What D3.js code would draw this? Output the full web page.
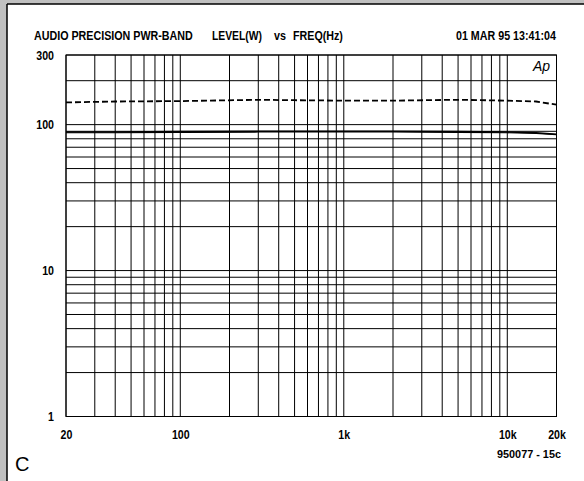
<!DOCTYPE html>
<html>
<head>
<meta charset="utf-8">
<script src="https://cdn.jsdelivr.net/npm/d3@7"></script>
<style>
  body { margin: 0; background: #fff; }
  text { font-family: "Liberation Sans", Arial, sans-serif; font-weight: bold; fill: #000; }
</style>
</head>
<body>
<script>
let freqs = [20, 40, 100, 300, 500, 1000, 2000, 5000, 10000, 15000, 20000];
let dashedLevel = [142, 144, 145, 148, 147, 146, 146, 148, 146, 144, 137];
let solidLevelA = [89, 89, 89.5, 90, 90, 90, 90, 89.5, 89, 88, 86];
let solidLevelB = [88, 88, 88.5, 89, 89, 89, 89, 88.5, 88, 87, 85.5];

let xTicks = [20, 100, 1000, 10000, 20000];
let xTickLabels = ["20", "100", "1k", "10k", "20k"];
let yTicks = [1, 10, 100, 300];
let yTickLabels = ["1", "10", "100", "300"];

let width = 584;
let height = 481;

let margin = { left: 66, right: 27.5, top: 55, bottom: 64.5 };
let innerW = width - margin.left - margin.right;
let innerH = height - margin.top - margin.bottom;

let svg = d3.select("body").append("svg").attr("width", width).attr("height", height);

// no narrow font installed, so squeeze text with a horizontal scale
let narrowText = (parent, str, px, py, targetW, size) => {
    let t = parent.append("text").style("font-size", size + "px").text(str);
    let s = targetW / t.node().getComputedTextLength();
    t.attr("transform", `translate(${px},${py}) scale(${s},1)`);
    return t;
};

// page frame: gray strip top and left, black edge
svg.append("rect").attr("width", width).attr("height", height).attr("fill", "#c0c0c0");
svg.append("rect").attr("x", 7).attr("y", 4).attr("width", width).attr("height", height).attr("fill", "#fff");
svg.append("line").attr("x1", 7).attr("x2", width).attr("y1", 4).attr("y2", 4).attr("stroke", "#000").attr("stroke-width", 1.5);
svg.append("line").attr("x1", 7).attr("x2", 7).attr("y1", 4).attr("y2", height).attr("stroke", "#000").attr("stroke-width", 1.5);

let x = d3.scaleLog().domain([20, 20000]).range([0, innerW]);
let y = d3.scaleLog().domain([1, 300]).range([innerH, 0]);

let chartGroup = svg.append("g").attr("transform", `translate(${margin.left},${margin.top})`);

// grid values
let xGrid = [];
[10, 100, 1000, 10000].forEach(d => { for (let i = 1; i < 10; i++) xGrid.push(d * i); });
xGrid = xGrid.filter(v => v >= 20 && v <= 20000);
xGrid.push(20000);
let yGrid = [];
[1, 10, 100].forEach(d => { for (let i = 1; i < 10; i++) yGrid.push(d * i); });
yGrid = yGrid.filter(v => v <= 300);

chartGroup.append("g").selectAll("line").data(xGrid).join("line")
    .attr("x1", d => x(d)).attr("x2", d => x(d))
    .attr("y1", 0).attr("y2", innerH)
    .attr("stroke", "#000").attr("stroke-width", 1);

chartGroup.append("g").selectAll("line").data(yGrid).join("line")
    .attr("x1", 0).attr("x2", innerW)
    .attr("y1", d => y(d)).attr("y2", d => y(d))
    .attr("stroke", "#000").attr("stroke-width", 1);

chartGroup.append("rect").attr("width", innerW).attr("height", innerH)
    .attr("fill", "none").attr("stroke", "#000").attr("stroke-width", 1);

// axes (labels only)
let xAxis = d3.axisBottom(x).tickValues(xTicks).tickFormat((d, i) => xTickLabels[i]).tickSize(0).tickPadding(14);
let yAxis = d3.axisLeft(y).tickValues(yTicks).tickFormat((d, i) => yTickLabels[i]).tickSize(0).tickPadding(12);

let gx = chartGroup.append("g").attr("transform", `translate(0,${innerH})`).call(xAxis);
let gy = chartGroup.append("g").call(yAxis);
[gx, gy].forEach(g => {
    g.select(".domain").remove();
    g.selectAll("text").style("font-size", "12.5px").style("font-weight", "bold")
        .style("font-family", '"Liberation Sans", Arial, sans-serif');
});
// squeeze tick labels around their anchor
gx.selectAll("text").attr("transform", "scale(0.85,1)");
gy.selectAll("text").attr("transform", "scale(0.85,1)").attr("x", -12 / 0.85);

// curves
let line = (vals) => d3.line().x((d, i) => x(freqs[i])).y(d => y(d))(vals);

chartGroup.append("path").attr("d", line(dashedLevel))
    .attr("fill", "none").attr("stroke", "#000").attr("stroke-width", 1.8).attr("stroke-dasharray", "6,3");
chartGroup.append("path").attr("d", line(solidLevelB))
    .attr("fill", "none").attr("stroke", "#000").attr("stroke-width", 1.2);
chartGroup.append("path").attr("d", line(solidLevelA))
    .attr("fill", "none").attr("stroke", "#000").attr("stroke-width", 1.6);

// texts
let title = svg.append("g");
narrowText(title, "AUDIO PRECISION PWR-BAND", 34, 40, 159, 12.5);
narrowText(title, "LEVEL(W)", 212, 40, 50, 12.5);
narrowText(title, "vs", 274, 40, 12, 12.5);
narrowText(title, "FREQ(Hz)", 293, 40, 50, 12.5);
narrowText(title, "01 MAR 95 13:41:04", 456, 40, 100, 12.5);
narrowText(svg, "950077 - 15c", 497, 458, 64, 10.5);

svg.append("text").attr("x", 550).attr("y", 71).attr("text-anchor", "end")
    .style("font-weight", "normal").style("font-style", "italic").style("font-size", "14px").text("Ap");

svg.append("text").attr("x", 15).attr("y", 471)
    .style("font-weight", "normal").style("font-size", "20px").text("C");
</script>
</body>
</html>
